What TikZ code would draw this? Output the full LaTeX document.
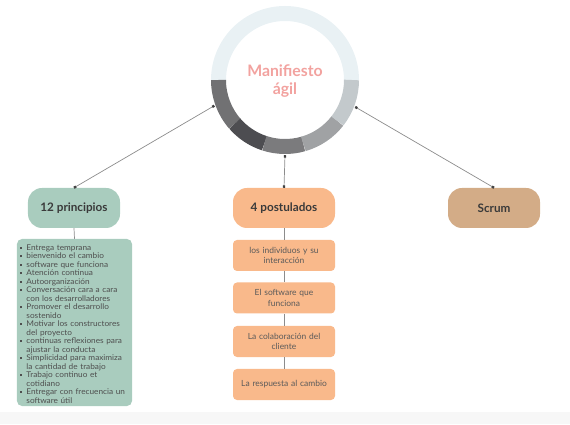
\documentclass[tikz,border=0pt]{standalone}
\usepackage{fontspec}
\setmainfont{Lato}
\newfontfamily\listfont[FakeStretch=1.05]{Lato}
\usetikzlibrary{arrows.meta}
\definecolor{ringtop}{HTML}{E9F1F4}
\definecolor{segA}{HTML}{717173}
\definecolor{segB}{HTML}{4D4D51}
\definecolor{segC}{HTML}{7B7B7D}
\definecolor{segD}{HTML}{A0A2A4}
\definecolor{segE}{HTML}{C3C9CC}
\definecolor{sage}{HTML}{A9CCBE}
\definecolor{peach}{HTML}{F9B98B}
\definecolor{tan}{HTML}{D3AC87}
\definecolor{titlepink}{HTML}{F2A29F}
\definecolor{headtext}{HTML}{3A3A3A}
\definecolor{subtext}{HTML}{5A5A5A}
\definecolor{linegray}{HTML}{8C8C8C}
\newcommand{\pitem}[1]{\par\hangindent=0.2cm\hangafter=1\noindent\makebox[0.2cm][l]{\rule[0.4ex]{1.6pt}{1.6pt}}#1}
\begin{document}
\begin{tikzpicture}[x=0.03cm, y=0.03cm,
		head/.style={rounded corners=0.42cm, minimum width=2.76cm, minimum height=1.2cm, font=\fontsize{10}{11}\selectfont\bfseries, text=headtext},
		sub/.style={fill=peach, rounded corners=0.12cm, minimum width=3.06cm, minimum height=0.93cm, text width=2.75cm, align=center, font=\fontsize{7.2}{9}\selectfont, text=subtext},
		link/.style={draw=linegray, line width=0.6pt},
		dotlink/.style={link, {Square[length=2pt,width=2pt,color=black!75]}-{Square[length=2pt,width=2pt,color=black!75]}}]
		\useasboundingbox (0,0) rectangle (570,424);
		\fill[black!3] (0,0) rectangle (570,12);

		\draw[ringtop, line width=0.45cm] (285,344) ++(0:66.5) arc[start angle=0, end angle=180, radius=66.5];
		\foreach \a/\b/\c in {180/221/segA, 221/252/segB, 252/286/segC, 286/322/segD, 322/360/segE}
			\draw[\c, line width=0.45cm] (285,344) ++(\a:66.5) arc[start angle=\a, end angle=\b, radius=66.5];
		\node[circle, minimum size=4.5cm, inner sep=0] (ring) at (285,344) {};
		\node[align=center, text=titlepink, font=\fontsize{13.5}{16}\selectfont\bfseries] (title) at (285,343) {Manifiesto\\ágil};

		\node[head, fill=sage] (prin) at (74,216) {12 principios};
		\node[head, fill=peach, minimum width=3.06cm] (post) at (284,216) {4 postulados};
		\node[head, fill=tan] (scrum) at (494,216) {Scrum};

		\draw[dotlink] (ring.200) -- (prin.north);
		\draw[dotlink] (ring.south) -- (post.north);
		\draw[dotlink] (ring.-21) -- (scrum.north);

		\node[fill=sage, rounded corners=0.15cm, text width=3.28cm, inner xsep=0.085cm, inner ysep=0.05cm, minimum height=5.01cm, text=headtext!90,
			font=\listfont\fontsize{6.7}{7.25}\selectfont] (list) at (74.5,101.5) {%
			\hyphenpenalty=10000\exhyphenpenalty=10000
			\pitem{Entrega temprana}
			\pitem{bienvenido el cambio}
			\pitem{software que funciona}
			\pitem{Atención continua}
			\pitem{Autoorganización}
			\pitem{Conversación cara a cara\linebreak con los desarrolladores}
			\pitem{Promover el desarrollo\linebreak sostenido}
			\pitem{Motivar los constructores\linebreak del proyecto}
			\pitem{continuas reflexiones para\linebreak ajustar la conducta}
			\pitem{Simplicidad para maximiza\linebreak la cantidad de trabajo}
			\pitem{Trabajo continuo et\linebreak cotidiano}
			\pitem{Entregar con frecuencia un\linebreak software útil}\par};
		\draw[link] (prin.south) -- (list.north);

		\node[sub] (p1) at (284,168.5) {los individuos y su\\interacción};
		\node[sub] (p2) at (284,126) {El software que\\funciona};
		\node[sub] (p3) at (284,82.5) {La colaboración del\\cliente};
		\node[sub] (p4) at (284,39.5) {La respuesta al cambio};
		\draw[link] (post.south) -- (p1.north);
		\draw[link] (p1.south) -- (p2.north);
		\draw[link] (p2.south) -- (p3.north);
		\draw[link] (p3.south) -- (p4.north);
	\end{tikzpicture}
\end{document}
